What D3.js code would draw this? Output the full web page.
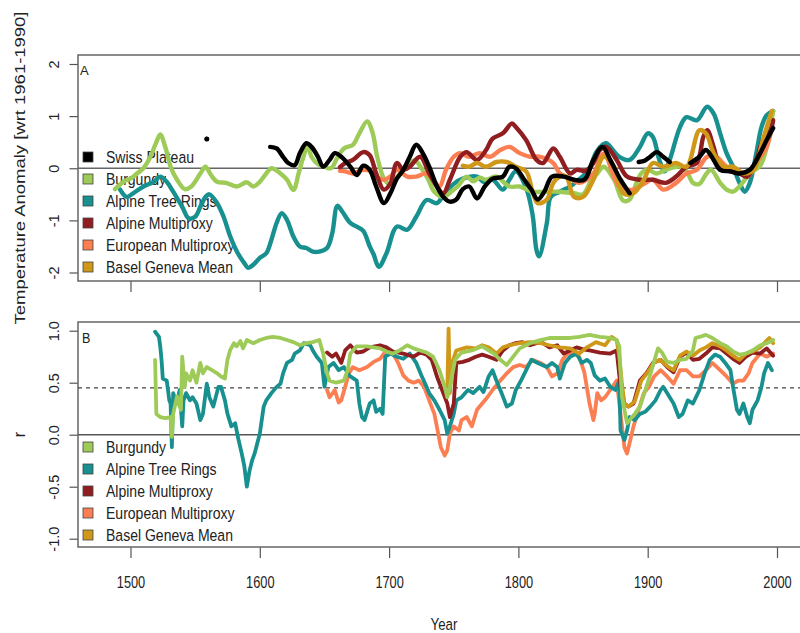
<!DOCTYPE html>
<html>
<head>
<meta charset="utf-8">
<script src="https://cdn.jsdelivr.net/npm/d3@7"></script>
<style>
  body { margin: 0; background: #fff; }
  text { font-family: "Liberation Sans", Arial, Helvetica, sans-serif; fill: #222; }
</style>
</head>
<body>
<script>
// ---- panel A: temperature anomaly (wrt 1961-1990) ----
const swissYears = [1559, 1560, 1608, 1613, 1618, 1622, 1627, 1631, 1636, 1640, 1645, 1649, 1654, 1658, 1664, 1670, 1675, 1680, 1685, 1690, 1696, 1701, 1706, 1711, 1716, 1721, 1726, 1731, 1737, 1742, 1747, 1752, 1757, 1762, 1768, 1774, 1780, 1788, 1793, 1798, 1804, 1810, 1815, 1820, 1826, 1835, 1843, 1851, 1858, 1865, 1871, 1879, 1886, 1890, 1893, 1898, 1902, 1907, 1912, 1917, 1925, 1933, 1940, 1945, 1951, 1956, 1964, 1971, 1979, 1987, 1992, 1997];
const swissVals = [0.56, null, 0.41, 0.38, 0.22, 0.1, 0.06, 0.29, 0.48, 0.41, 0.22, 0.03, 0.16, 0.29, 0.2, 0.03, -0.13, 0.05, -0.03, -0.35, -0.67, -0.48, -0.2, -0.03, 0.22, 0.45, 0.29, 0.03, -0.35, -0.55, -0.64, -0.6, -0.4, -0.35, -0.58, -0.35, -0.2, -0.16, 0.03, 0.0, -0.2, -0.41, -0.6, -0.45, -0.16, -0.16, -0.22, -0.22, 0.16, 0.41, 0.16, -0.22, -0.48, null, 0.12, 0.15, 0.22, 0.31, 0.22, 0.12, null, 0.1, 0.22, 0.35, 0.16, -0.03, -0.06, -0.1, -0.03, 0.29, 0.54, 0.77];

const burgYearsA = [1488, 1495, 1500, 1505, 1510, 1515, 1520, 1523, 1527, 1531, 1536, 1542, 1547, 1554, 1558, 1562, 1567, 1574, 1582, 1590, 1595, 1600, 1605, 1609, 1616, 1621, 1626, 1630, 1633, 1637, 1640, 1645, 1650, 1655, 1660, 1665, 1672, 1677, 1683, 1687, 1691, 1696, 1700, 1705, 1710, 1715, 1720, 1725, 1730, 1735, 1742, 1748, 1753, 1760, 1765, 1770, 1775, 1783, 1793, 1801, 1811, 1822, 1832, 1843, 1850, 1856, 1861, 1866, 1874, 1881, 1886, 1891, 1895, 1900, 1907, 1914, 1925, 1930, 1935, 1940, 1945, 1949, 1956, 1961, 1966, 1971, 1979, 1987, 1992, 1997];
const burgValsA = [-0.4, -0.25, -0.2, -0.1, 0.0, 0.2, 0.5, 0.65, 0.4, 0.03, -0.22, -0.4, -0.35, -0.1, 0.03, -0.12, -0.26, -0.28, -0.35, -0.27, -0.35, -0.26, -0.1, 0.0, -0.1, -0.22, -0.42, -0.1, 0.16, 0.41, 0.22, 0.08, 0.03, 0.0, 0.2, 0.38, 0.45, 0.67, 0.9, 0.7, 0.2, -0.2, -0.3, -0.2, -0.05, 0.1, 0.15, 0.0, -0.2, -0.45, -0.55, -0.45, -0.35, -0.16, -0.25, -0.18, -0.22, -0.16, -0.35, -0.35, -0.45, -0.45, -0.45, -0.48, -0.5, -0.25, -0.1, 0.03, -0.22, -0.62, -0.6, -0.3, -0.1, -0.03, -0.1, -0.03, 0.03, -0.05, -0.28, -0.3, -0.12, -0.03, -0.28, -0.41, -0.45, -0.35, -0.1, 0.05, 0.4, 1.1];

const treeYearsA = [1492, 1497, 1502, 1510, 1518, 1523, 1528, 1533, 1540, 1545, 1550, 1554, 1558, 1561, 1567, 1572, 1577, 1583, 1588, 1591, 1595, 1600, 1605, 1609, 1613, 1617, 1621, 1626, 1631, 1636, 1641, 1646, 1652, 1656, 1660, 1664, 1670, 1675, 1680, 1685, 1688, 1692, 1698, 1706, 1714, 1721, 1729, 1737, 1742, 1750, 1757, 1768, 1773, 1780, 1788, 1793, 1798, 1806, 1811, 1814, 1816, 1822, 1825, 1832, 1840, 1845, 1850, 1855, 1860, 1865, 1868, 1878, 1886, 1894, 1900, 1904, 1909, 1913, 1917, 1925, 1930, 1938, 1946, 1951, 1956, 1961, 1966, 1971, 1975, 1979, 1984, 1988, 1992, 1997];
const treeValsA = [-0.41, -0.55, -0.48, -0.35, -0.26, -0.16, -0.26, -0.45, -0.74, -0.96, -0.93, -0.74, -0.55, -0.5, -0.67, -0.93, -1.3, -1.63, -1.82, -1.91, -1.85, -1.72, -1.63, -1.37, -1.05, -0.86, -0.99, -1.31, -1.5, -1.53, -1.6, -1.6, -1.53, -1.25, -0.72, -0.84, -1.05, -1.12, -1.2, -1.5, -1.65, -1.89, -1.63, -1.12, -1.18, -0.93, -0.61, -0.67, -0.52, -0.3, -0.2, -0.16, -0.26, -0.22, -0.41, -0.22, -0.06, -0.38, -0.9, -1.57, -1.69, -1.05, -0.55, -0.45, -0.35, -0.25, -0.15, 0.0, 0.3, 0.45, 0.48, 0.22, 0.16, 0.41, 0.67, 0.6, 0.16, -0.06, 0.16, 0.79, 0.98, 0.92, 1.18, 1.05, 0.67, 0.29, 0.03, -0.28, -0.45, -0.28, 0.29, 0.79, 1.02, 1.1];

const alpYearsA = [1662, 1666, 1672, 1680, 1685, 1690, 1696, 1701, 1706, 1711, 1716, 1724, 1731, 1737, 1742, 1747, 1755, 1760, 1768, 1775, 1780, 1788, 1795, 1798, 1806, 1814, 1819, 1827, 1832, 1840, 1845, 1852, 1858, 1863, 1868, 1876, 1884, 1894, 1904, 1914, 1922, 1930, 1938, 1943, 1946, 1951, 1956, 1964, 1971, 1977, 1984, 1989, 1995, 1997];
const alpValsA = [0.02, 0.1, 0.16, 0.31, 0.25, -0.1, -0.41, -0.29, 0.1, -0.03, 0.03, 0.22, -0.1, -0.35, -0.48, -0.22, 0.22, 0.31, 0.16, 0.35, 0.57, 0.67, 0.86, 0.79, 0.54, 0.16, 0.1, 0.38, 0.22, -0.1, -0.03, -0.05, 0.1, 0.35, 0.41, 0.16, -0.16, -0.22, -0.22, -0.28, -0.16, 0.03, 0.1, 0.6, 0.73, 0.41, 0.03, -0.06, -0.1, -0.16, 0.16, 0.54, 0.73, 0.92];

const eurYearsA = [1662, 1666, 1672, 1680, 1685, 1690, 1696, 1701, 1706, 1714, 1721, 1729, 1734, 1739, 1744, 1750, 1755, 1762, 1770, 1778, 1786, 1793, 1801, 1809, 1817, 1827, 1832, 1840, 1847, 1858, 1866, 1878, 1889, 1897, 1904, 1912, 1922, 1930, 1938, 1946, 1953, 1961, 1969, 1977, 1984, 1992, 1996];
const eurValsA = [-0.05, -0.06, -0.1, -0.03, -0.05, -0.16, -0.22, -0.16, -0.03, -0.16, -0.16, -0.1, -0.22, -0.35, -0.03, 0.22, 0.29, 0.22, 0.29, 0.22, 0.35, 0.41, 0.29, 0.22, 0.22, 0.1, -0.1, -0.2, -0.28, -0.1, 0.28, -0.35, -0.41, -0.3, -0.22, -0.41, -0.28, -0.1, -0.03, 0.22, 0.22, 0.03, -0.03, -0.16, 0.1, 0.41, 0.79];

const baselYearsA = [1757, 1762, 1768, 1775, 1783, 1791, 1798, 1806, 1811, 1815, 1822, 1827, 1832, 1837, 1843, 1850, 1858, 1866, 1874, 1881, 1889, 1897, 1904, 1912, 1922, 1930, 1940, 1945, 1951, 1959, 1966, 1974, 1982, 1989, 1996];
const baselValsA = [0.05, 0.03, 0.1, 0.03, 0.12, 0.12, 0.03, -0.06, -0.45, -0.67, -0.6, -0.28, -0.16, -0.16, -0.55, -0.55, -0.22, 0.22, 0.03, -0.48, -0.48, -0.22, 0.1, 0.03, 0.1, 0.03, 0.73, 0.67, 0.29, 0.03, 0.03, -0.1, -0.03, 0.54, 1.1];

// ---- panel B: running correlation r ----
const burgYearsB = [1519, 1520, 1523, 1527, 1531, 1532, 1533, 1536, 1538, 1539, 1540, 1542, 1543, 1546, 1548, 1551, 1554, 1556, 1559, 1563, 1567, 1570, 1573, 1575, 1577, 1580, 1582, 1585, 1587, 1590, 1595, 1600, 1605, 1610, 1616, 1621, 1626, 1631, 1636, 1641, 1646, 1649, 1652, 1654, 1659, 1665, 1668, 1670, 1675, 1683, 1693, 1698, 1703, 1708, 1714, 1719, 1724, 1729, 1734, 1739, 1743, 1745, 1747, 1751, 1756, 1764, 1772, 1781, 1786, 1791, 1796, 1801, 1809, 1817, 1824, 1832, 1840, 1847, 1855, 1863, 1871, 1876, 1878, 1880, 1884, 1886, 1890, 1894, 1899, 1903, 1906, 1908, 1911, 1915, 1920, 1925, 1930, 1935, 1937, 1940, 1945, 1950, 1956, 1961, 1966, 1971, 1976, 1981, 1987, 1992, 1997];
const burgValsB = [0.72, 0.2, 0.17, 0.16, 0.17, -0.02, 0.2, 0.37, 0.27, 0.24, 0.75, 0.46, 0.59, 0.52, 0.62, 0.5, 0.69, 0.59, 0.65, 0.62, 0.59, 0.56, 0.54, 0.72, 0.81, 0.88, 0.85, 0.9, 0.83, 0.91, 0.88, 0.91, 0.93, 0.94, 0.93, 0.91, 0.89, 0.86, 0.88, 0.89, 0.91, 0.78, 0.59, 0.52, 0.5, 0.52, 0.62, 0.78, 0.85, 0.85, 0.83, 0.8, 0.78, 0.81, 0.86, 0.83, 0.81, 0.79, 0.75, 0.62, 0.46, 0.36, 0.46, 0.72, 0.79, 0.81, 0.85, 0.78, 0.72, 0.67, 0.75, 0.83, 0.88, 0.91, 0.93, 0.93, 0.93, 0.94, 0.96, 0.94, 0.93, 0.91, 0.85, 0.37, 0.11, 0.14, 0.2, 0.27, 0.46, 0.62, 0.75, 0.83, 0.79, 0.7, 0.69, 0.72, 0.73, 0.81, 0.93, 0.94, 0.96, 0.93, 0.88, 0.85, 0.8, 0.77, 0.78, 0.81, 0.86, 0.88, 0.91];

const treeYearsB = [1519, 1522, 1523, 1524, 1525, 1528, 1529, 1530, 1531, 1532, 1533, 1536, 1538, 1540, 1541, 1543, 1546, 1548, 1551, 1554, 1556, 1559, 1561, 1564, 1568, 1570, 1573, 1575, 1578, 1581, 1583, 1586, 1588, 1590, 1592, 1594, 1596, 1600, 1603, 1605, 1609, 1613, 1616, 1618, 1621, 1625, 1627, 1631, 1634, 1639, 1641, 1644, 1648, 1650, 1653, 1657, 1661, 1665, 1670, 1675, 1677, 1679, 1681, 1685, 1688, 1690, 1693, 1695, 1697, 1701, 1706, 1711, 1716, 1721, 1725, 1729, 1731, 1735, 1739, 1743, 1745, 1747, 1750, 1752, 1756, 1761, 1765, 1770, 1773, 1777, 1780, 1783, 1787, 1791, 1795, 1798, 1802, 1806, 1810, 1815, 1822, 1826, 1830, 1832, 1836, 1840, 1845, 1849, 1853, 1856, 1859, 1863, 1867, 1871, 1875, 1878, 1879, 1882, 1884, 1886, 1890, 1894, 1898, 1902, 1906, 1910, 1912, 1915, 1920, 1924, 1927, 1931, 1935, 1940, 1944, 1948, 1952, 1956, 1960, 1964, 1966, 1969, 1971, 1974, 1977, 1979, 1981, 1985, 1988, 1990, 1993, 1996];
const treeValsB = [0.99, 0.94, 0.85, 0.72, 0.54, 0.52, 0.43, 0.33, 0.3, -0.12, 0.4, 0.3, 0.43, 0.08, 0.33, 0.4, 0.33, 0.36, 0.3, 0.14, 0.2, 0.49, 0.36, 0.27, 0.46, 0.46, 0.33, 0.2, 0.08, 0.11, -0.02, -0.18, -0.3, -0.5, -0.35, -0.25, -0.18, 0.01, 0.27, 0.33, 0.4, 0.46, 0.49, 0.59, 0.69, 0.72, 0.78, 0.81, 0.88, 0.86, 0.81, 0.75, 0.69, 0.46, 0.65, 0.69, 0.62, 0.65, 0.56, 0.52, 0.3, 0.17, 0.14, 0.3, 0.33, 0.22, 0.25, 0.2, 0.75, 0.78, 0.75, 0.73, 0.78, 0.69, 0.57, 0.46, 0.4, 0.33, 0.24, 0.14, 0.01, 0.08, 0.2, 0.33, 0.36, 0.43, 0.4, 0.46, 0.41, 0.56, 0.62, 0.52, 0.4, 0.27, 0.3, 0.43, 0.52, 0.62, 0.72, 0.69, 0.65, 0.69, 0.65, 0.54, 0.69, 0.75, 0.78, 0.69, 0.72, 0.69, 0.57, 0.52, 0.54, 0.46, 0.43, 0.52, 0.04, -0.05, 0.04, 0.17, 0.14, 0.2, 0.22, 0.27, 0.33, 0.43, 0.46, 0.4, 0.3, 0.17, 0.2, 0.33, 0.3, 0.43, 0.59, 0.72, 0.77, 0.75, 0.69, 0.62, 0.46, 0.24, 0.2, 0.3, 0.17, 0.11, 0.24, 0.33, 0.46, 0.59, 0.69, 0.62];

const alpYearsB = [1652, 1656, 1659, 1663, 1666, 1670, 1675, 1680, 1685, 1693, 1698, 1703, 1711, 1719, 1724, 1729, 1733, 1737, 1741, 1745, 1747, 1750, 1752, 1757, 1762, 1767, 1772, 1777, 1783, 1788, 1793, 1798, 1803, 1809, 1814, 1819, 1824, 1830, 1835, 1840, 1845, 1850, 1855, 1863, 1871, 1876, 1879, 1882, 1885, 1889, 1894, 1899, 1904, 1910, 1915, 1920, 1925, 1930, 1935, 1940, 1945, 1950, 1956, 1961, 1966, 1971, 1976, 1981, 1987, 1992, 1997];
const alpValsB = [0.79, 0.75, 0.78, 0.69, 0.81, 0.86, 0.79, 0.8, 0.84, 0.86, 0.84, 0.8, 0.78, 0.75, 0.79, 0.77, 0.72, 0.56, 0.43, 0.3, 0.17, 0.3, 0.69, 0.7, 0.72, 0.75, 0.77, 0.75, 0.72, 0.81, 0.86, 0.88, 0.89, 0.86, 0.88, 0.88, 0.84, 0.86, 0.78, 0.81, 0.84, 0.82, 0.81, 0.79, 0.78, 0.81, 0.46, 0.3, 0.27, 0.3, 0.52, 0.59, 0.69, 0.72, 0.65, 0.6, 0.75, 0.79, 0.72, 0.73, 0.78, 0.84, 0.83, 0.78, 0.73, 0.69, 0.75, 0.79, 0.78, 0.83, 0.76];

const eurYearsB = [1652, 1654, 1658, 1661, 1663, 1666, 1669, 1672, 1677, 1683, 1688, 1693, 1698, 1703, 1707, 1711, 1715, 1719, 1723, 1727, 1731, 1735, 1738, 1740, 1743, 1745, 1747, 1750, 1754, 1756, 1760, 1764, 1768, 1772, 1776, 1780, 1786, 1791, 1796, 1801, 1806, 1811, 1817, 1822, 1826, 1830, 1834, 1838, 1843, 1847, 1851, 1855, 1858, 1859, 1861, 1864, 1867, 1871, 1876, 1879, 1882, 1884, 1886, 1889, 1893, 1897, 1901, 1905, 1910, 1915, 1920, 1925, 1930, 1935, 1940, 1945, 1950, 1956, 1961, 1966, 1970, 1974, 1978, 1981, 1987, 1992, 1997];
const eurValsB = [0.43, 0.36, 0.43, 0.31, 0.33, 0.46, 0.59, 0.65, 0.62, 0.65, 0.7, 0.73, 0.81, 0.78, 0.69, 0.57, 0.52, 0.5, 0.52, 0.46, 0.33, 0.2, 0.01, -0.12, -0.2, -0.15, 0.01, 0.08, 0.04, 0.14, 0.17, 0.08, 0.24, 0.3, 0.36, 0.43, 0.52, 0.59, 0.65, 0.67, 0.65, 0.72, 0.69, 0.65, 0.56, 0.59, 0.72, 0.78, 0.79, 0.75, 0.6, 0.3, 0.14, 0.2, 0.4, 0.33, 0.36, 0.43, 0.52, 0.2, -0.12, -0.18, -0.08, 0.08, 0.24, 0.4, 0.46, 0.56, 0.62, 0.56, 0.49, 0.62, 0.62, 0.56, 0.56, 0.62, 0.69, 0.62, 0.56, 0.49, 0.52, 0.52, 0.59, 0.69, 0.78, 0.75, 0.78];

const baselYearsB = [1745, 1746, 1747, 1749, 1752, 1760, 1767, 1772, 1777, 1783, 1788, 1793, 1801, 1809, 1817, 1824, 1832, 1840, 1847, 1853, 1860, 1867, 1872, 1876, 1878, 1880, 1882, 1885, 1890, 1895, 1900, 1905, 1910, 1915, 1920, 1925, 1930, 1935, 1940, 1945, 1950, 1956, 1961, 1966, 1971, 1976, 1981, 1987, 1994, 1997];
const baselValsB = [0.4, 1.02, 0.4, 0.7, 0.81, 0.84, 0.83, 0.86, 0.84, 0.78, 0.84, 0.86, 0.88, 0.89, 0.88, 0.86, 0.84, 0.83, 0.78, 0.84, 0.89, 0.86, 0.94, 0.91, 0.75, 0.5, 0.3, 0.27, 0.32, 0.52, 0.6, 0.7, 0.72, 0.66, 0.62, 0.76, 0.8, 0.76, 0.81, 0.84, 0.88, 0.85, 0.81, 0.76, 0.72, 0.78, 0.8, 0.84, 0.93, 0.88];

// ---- labels and ticks ----
const legendA = ["Swiss Plateau", "Burgundy", "Alpine Tree Rings", "Alpine Multiproxy", "European Multiproxy", "Basel Geneva Mean"];
const legendB = ["Burgundy", "Alpine Tree Rings", "Alpine Multiproxy", "European Multiproxy", "Basel Geneva Mean"];
const xTicks = [1500, 1600, 1700, 1800, 1900, 2000];
const yTicksA = [-2, -1, 0, 1, 2];
const yTicksB = [-1, -0.5, 0, 0.5, 1];

const colors = {
    "Swiss Plateau": "#000000",
    "Burgundy": "#9ecb58",
    "Alpine Tree Rings": "#17908f",
    "Alpine Multiproxy": "#901e20",
    "European Multiproxy": "#fb7f52",
    "Basel Geneva Mean": "#cf9818"
};

const w = 800;
const h = 633;
const boxLeft = 78, boxRight = 830;
const topA = 55, botA = 281;
const topB = 322, botB = 547;

const svg = d3.select("body")
    .append("svg")
    .attr("width", w)
    .attr("height", h);

const x = d3.scaleLinear().domain([1500, 2000]).range([130.5, 777]);
const yA = d3.scaleLinear().domain([-2, 2]).range([272.5, 64]);
const yB = d3.scaleLinear().domain([-1, 1]).range([538.7, 330.7]);

function zip(years, vals) {
    return years.map(function (yr, i) { return { yr: yr, v: vals[i] }; });
}

// helper: horizontal text, slightly squeezed like the source figure
function label(g, tx, ty, str, size, sx, anchor) {
    return g.append("text")
        .attr("transform", "translate(" + tx + "," + ty + ") scale(" + sx + ",1)")
        .attr("font-size", size)
        .attr("text-anchor", anchor || "start")
        .text(str);
}

function panel(top, bot, yScale, yTicks, fmt, showXLabels) {
    // y axis
    const ga = svg.append("g")
        .attr("transform", "translate(" + boxLeft + ",0)")
        .call(d3.axisLeft(yScale).tickValues(yTicks).tickSize(8.5).tickFormat(fmt));
    ga.select(".domain").remove();
    ga.selectAll("line").attr("stroke", "#555").attr("stroke-width", 1.2);
    ga.selectAll("text")
        .attr("x", null).attr("dy", null)
        .attr("text-anchor", "middle")
        .attr("font-size", 14.5)
        .attr("fill", "#333")
        .attr("transform", "translate(-19,0) rotate(-90)");

    // x axis
    const gx = svg.append("g")
        .attr("transform", "translate(0," + bot + ")")
        .call(d3.axisBottom(x).tickValues(xTicks).tickSize(11).tickFormat(showXLabels ? d3.format("d") : ""));
    gx.select(".domain").remove();
    gx.selectAll("line").attr("stroke", "#555").attr("stroke-width", 1.2);
    gx.selectAll("text")
        .attr("y", null).attr("dy", null)
        .attr("font-size", 16)
        .attr("fill", "#333")
        .attr("transform", "translate(0,41) scale(0.8,1)");

    // frame
    svg.append("rect")
        .attr("x", boxLeft).attr("y", top)
        .attr("width", boxRight - boxLeft).attr("height", bot - top)
        .attr("fill", "none").attr("stroke", "#666").attr("stroke-width", 1.5);
}

panel(topA, botA, yA, yTicksA, function (d) { return String(d); }, false);
panel(topB, botB, yB, yTicksB, function (d) { return d.toFixed(1); }, true);

// reference lines
svg.append("line")
    .attr("x1", boxLeft).attr("x2", boxRight)
    .attr("y1", yA(0)).attr("y2", yA(0))
    .attr("stroke", "#666").attr("stroke-width", 1.5);
svg.append("line")
    .attr("x1", boxLeft).attr("x2", boxRight)
    .attr("y1", yB(0)).attr("y2", yB(0))
    .attr("stroke", "#555").attr("stroke-width", 1.5);
svg.append("line")
    .attr("x1", boxLeft).attr("x2", boxRight)
    .attr("y1", yB(0.45)).attr("y2", yB(0.45))
    .attr("stroke", "#444").attr("stroke-width", 1.2)
    .attr("stroke-dasharray", "4,4");

// legends (lines are drawn over them)
function legend(names, y0) {
    const g = svg.append("g");
    names.forEach(function (name, i) {
        const cy = y0 + i * 22;
        g.append("rect")
            .attr("x", 83).attr("y", cy - 5)
            .attr("width", 10).attr("height", 10)
            .attr("fill", colors[name])
            .attr("stroke", "#444").attr("stroke-width", 0.8);
        label(g, 106, cy + 6, name, 16.5, 0.85);
    });
}
legend(legendA, 157);
legend(legendB, 447);

// panel letters
label(svg, 80, 75, "A", 13, 1);
label(svg, 82, 343, "B", 14, 0.9);

// series
const lineA = d3.line()
    .defined(function (d) { return d.v != null; })
    .x(function (d) { return x(d.yr); })
    .y(function (d) { return yA(d.v); })
    .curve(d3.curveCatmullRom.alpha(0.5));

const lineB = d3.line()
    .x(function (d) { return x(d.yr); })
    .y(function (d) { return yB(d.v); });

function drawA(data, name) {
    svg.append("path")
        .datum(data)
        .attr("d", lineA)
        .attr("fill", "none")
        .attr("stroke", colors[name])
        .attr("stroke-width", 4.4)
        .attr("stroke-linejoin", "round")
        .attr("stroke-linecap", "round");
    // isolated values have no neighbours, so show them as dots
    data.forEach(function (d, i) {
        const prev = data[i - 1], next = data[i + 1];
        if (d.v != null && (!prev || prev.v == null) && (!next || next.v == null)) {
            svg.append("circle")
                .attr("cx", x(d.yr)).attr("cy", yA(d.v))
                .attr("r", 2.5).attr("fill", colors[name]);
        }
    });
}

function drawB(data, name) {
    svg.append("path")
        .datum(data)
        .attr("d", lineB)
        .attr("fill", "none")
        .attr("stroke", colors[name])
        .attr("stroke-width", 3.8)
        .attr("stroke-linejoin", "round")
        .attr("stroke-linecap", "round");
}

drawA(zip(treeYearsA, treeValsA), "Alpine Tree Rings");
drawA(zip(burgYearsA, burgValsA), "Burgundy");
drawA(zip(eurYearsA, eurValsA), "European Multiproxy");
drawA(zip(alpYearsA, alpValsA), "Alpine Multiproxy");
drawA(zip(baselYearsA, baselValsA), "Basel Geneva Mean");
drawA(zip(swissYears, swissVals), "Swiss Plateau");

drawB(zip(eurYearsB, eurValsB), "European Multiproxy");
drawB(zip(treeYearsB, treeValsB), "Alpine Tree Rings");
drawB(zip(alpYearsB, alpValsB), "Alpine Multiproxy");
drawB(zip(baselYearsB, baselValsB), "Basel Geneva Mean");
drawB(zip(burgYearsB, burgValsB), "Burgundy");

// axis titles
svg.append("text")
    .attr("transform", "translate(25," + ((topA + botA) / 2) + ") rotate(-90)")
    .attr("text-anchor", "middle")
    .attr("font-size", 15.5)
    .attr("textLength", 313)
    .attr("lengthAdjust", "spacingAndGlyphs")
    .text("Temperature Anomaly [wrt 1961-1990]");

svg.append("text")
    .attr("transform", "translate(25," + ((topB + botB) / 2) + ") rotate(-90)")
    .attr("text-anchor", "middle")
    .attr("font-size", 16)
    .text("r");

label(svg, 444, 630, "Year", 17, 0.78, "middle");
</script>
</body>
</html>
